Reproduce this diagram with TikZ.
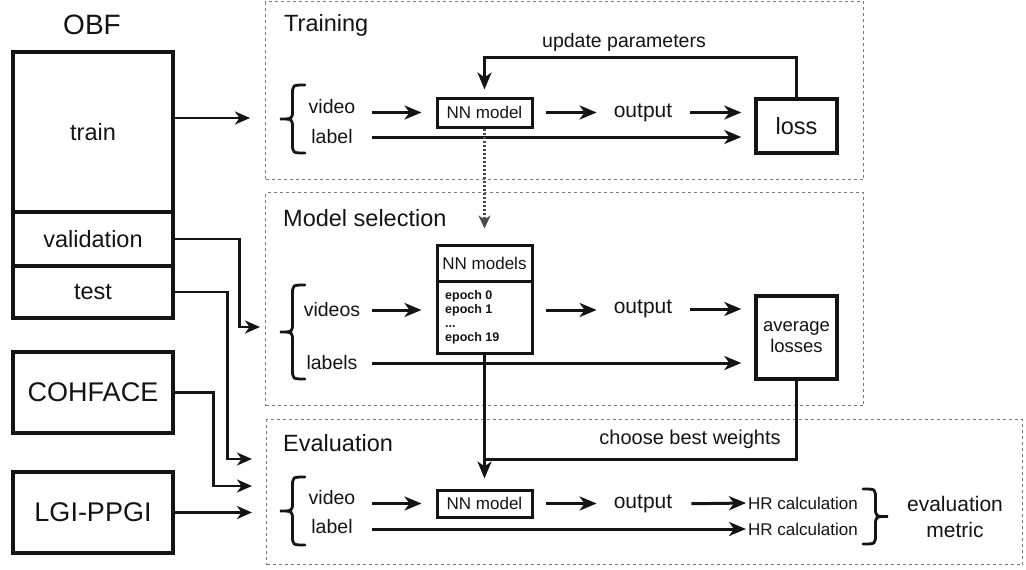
\documentclass[tikz,border=0pt]{standalone}
\usepackage{fontspec}
\setmainfont{Liberation Sans}
\usetikzlibrary{arrows.meta}
\definecolor{ink}{HTML}{141414}
\definecolor{panelgray}{HTML}{7A7A7A}
\definecolor{dotgray}{HTML}{4A4A4A}

% curly bracket opening to the right: arms at x=#1, tip at x=#2, from y=#3 to y=#4
\newcommand{\bracketOpen}[4]{%
  \draw[brc] (#1,#3) .. controls ({(#1+#2)/2},#3) .. ({(#1+#2)/2},{#3+10})
    -- ({(#1+#2)/2},{(#3+#4)/2-9}) .. controls ({(#1+#2)/2},{(#3+#4)/2}) .. (#2,{(#3+#4)/2})
    .. controls ({(#1+#2)/2},{(#3+#4)/2}) .. ({(#1+#2)/2},{(#3+#4)/2+9})
    -- ({(#1+#2)/2},{#4-10}) .. controls ({(#1+#2)/2},#4) .. (#1,#4);}

\begin{document}
\begin{tikzpicture}[x=1pt,y=-1pt,
  every node/.style={inner sep=0pt, text=ink},
  box/.style={draw=ink, line width=3.4pt, inner sep=0pt},
  nnbox/.style={draw=ink, line width=3pt, minimum width=95pt, font=\fontsize{17}{19}\selectfont},
  panel/.style={draw=panelgray, line width=1.1pt, dash pattern=on 3pt off 3pt, anchor=north west},
  ttl/.style={anchor=west, font=\fontsize{23.5}{26}\selectfont},
  lbl/.style={font=\fontsize{19.5}{22}\selectfont},
  outt/.style={font=\fontsize{21}{24}\selectfont},
  hrt/.style={anchor=west, font=\fontsize{17}{19}\selectfont},
  dsname/.style={font=\fontsize{23.5}{26}\selectfont},
  bigname/.style={font=\fontsize{27}{30}\selectfont},
  arr/.style={draw=ink, line width=3pt, -{Stealth[length=17pt,width=14pt,inset=5pt]}},
  feed/.style={draw=ink, line width=2.6pt, -{Stealth[length=15pt,width=13pt,inset=4.5pt]}},
  wire/.style={draw=ink, line width=3pt},
  dots/.style={draw=dotgray, line width=2.2pt, dash pattern=on 2pt off 2pt,
    -{Stealth[length=13pt,width=12pt,inset=4pt]}},
  brc/.style={draw=ink, line width=2.8pt, line cap=round}
]
\useasboundingbox (0,0) rectangle (1026,570);

% ---------------- dataset splits ----------------
\node[font=\fontsize{28}{30}\selectfont] (obf) at (92,25) {OBF};
\node[box, minimum width=160, minimum height=160, dsname] (train) at (93,132) {train};
\node[box, minimum width=160, minimum height=54, dsname] (val) at (93,239) {validation};
\node[box, minimum width=160, minimum height=52, dsname] (test) at (93,292) {test};
\node[box, minimum width=160, minimum height=81, bigname] (coh) at (93,392.5) {COHFACE};
\node[box, minimum width=160, minimum height=81, bigname] (lgi) at (93,512.5) {LGI-PPGI};

% ---------------- stage panels ----------------
\node[panel, minimum width=598, minimum height=178] (ptrain) at (265,1) {};
\node[panel, minimum width=598, minimum height=213] (psel) at (265,192) {};
\node[panel, minimum width=756, minimum height=145] (peval) at (266,419) {};

\coordinate (tin) at (250,118);
\coordinate (vin) at (260,327);
\coordinate (ein1) at (252,459);
\coordinate (ein2) at (252,486);
\coordinate (ein3) at (252,512.5);

\draw[feed] (train.east |- tin) -- (tin);
\draw[feed] (val.east) -- ++(65,0) |- (vin);
\draw[feed] (test.east) -- ++(53,0) |- (ein1);
\draw[feed] (coh.east) -- ++(39,0) |- (ein2);
\draw[feed] (lgi.east) -- (ein3);

% ---------------- training ----------------
\node[ttl] (ttrain) at (284,25) {Training};
\bracketOpen{305}{280}{85}{153}
\node[lbl] (vid1) at (332,107) {video};
\node[lbl] (lab1) at (332,137) {label};
\node[nnbox, minimum height=29] (nn1) at (484.5,112.5) {NN model};
\node[outt] (out1) at (643,113) {output};
\node[box, minimum width=81, minimum height=54, dsname] (loss) at (796.5,126) {loss};
\node[lbl] (upd) at (624,42) {update parameters};

\draw[arr, shorten <=16.5pt, shorten >=14pt] (vid1.east |- nn1.west) -- (nn1.west);
\draw[arr, shorten <=12pt, shorten >=17pt] (nn1.east) -- (out1.west |- nn1.east);
\draw[arr, shorten <=18pt, shorten >=13pt] (out1.east |- nn1.east) -- (loss.west |- nn1.east);
\draw[arr, shorten <=19.5pt, shorten >=13pt] (lab1.east) -- (lab1.east -| loss.west);
\draw[arr, shorten >=7pt] (loss.north) -- ++(0,-40) -| (nn1.north);

% ---------------- model selection ----------------
\node[ttl] (tsel) at (283,218) {Model selection};
\bracketOpen{305}{280}{285}{379}
\node[lbl] (vid2) at (332,310) {videos};
\node[lbl] (lab2) at (332,363) {labels};
\node[nnbox, minimum height=36] (nnmh) at (484.5,263) {NN models};
\node[nnbox, minimum height=72] (nnmb) at (484.5,317) {};
\node[anchor=west, align=left, font=\fontsize{12.5}{14}\selectfont\bfseries] (ep) at (445,317)
  {epoch 0\\epoch 1\\...\\epoch 19};
\node[outt] (out2) at (643,309) {output};
\node[box, minimum width=81, minimum height=83, align=center,
  font=\fontsize{18.5}{21}\selectfont] (avg) at (796.5,337.5) {average\\losses};

\draw[dots, shorten >=15pt] (nn1.south) -- (nnmh.north);
\draw[arr, shorten <=12pt, shorten >=14pt] (vid2.east) -- (vid2.east -| nnmb.west);
\draw[arr, shorten <=12pt, shorten >=17pt] (vid2.east -| nnmb.east) -- (vid2.east -| out2.west);
\draw[arr, shorten <=18pt, shorten >=13pt] (out2.east) -- (out2.east -| avg.west);
\draw[arr, shorten <=14.5pt, shorten >=13pt] (lab2.east) -- (lab2.east -| avg.west);

% ---------------- evaluation ----------------
\node[ttl] (teval) at (283,443) {Evaluation};
\bracketOpen{305}{280}{477}{545}
\node[lbl] (vid3) at (332,498) {video};
\node[lbl] (lab3) at (332,527) {label};
\node[nnbox, minimum height=27] (nn3) at (484.5,503.5) {NN model};
\node[outt] (out3) at (643,504) {output};
\node[hrt] (hr1) at (748,503) {HR calculation};
\node[hrt] (hr2) at (748,529) {HR calculation};
\bracketOpen{863}{888}{489}{544}
\node[outt, align=center, font=\fontsize{21}{26}\selectfont] (metric) at (955,517) {evaluation\\metric};
\node[font=\fontsize{20}{22}\selectfont] (cbw) at (690,439) {choose best weights};

\draw[wire] (avg.south) -- ++(0,79) -| (nnmb.south);
\draw[arr, shorten >=10pt] (nnmb.south) -- (nn3.north);
\draw[arr, shorten <=16.5pt, shorten >=14pt] (vid3.east |- nn3.west) -- (nn3.west);
\draw[arr, shorten <=12pt, shorten >=17pt] (nn3.east) -- (out3.west |- nn3.east);
\draw[arr, shorten <=19pt, shorten >=2pt] (out3.east) -- (hr1.west);
\draw[arr, shorten <=19.5pt, shorten >=2pt] (lab3.east |- hr2.west) -- (hr2.west);
\end{tikzpicture}
\end{document}
